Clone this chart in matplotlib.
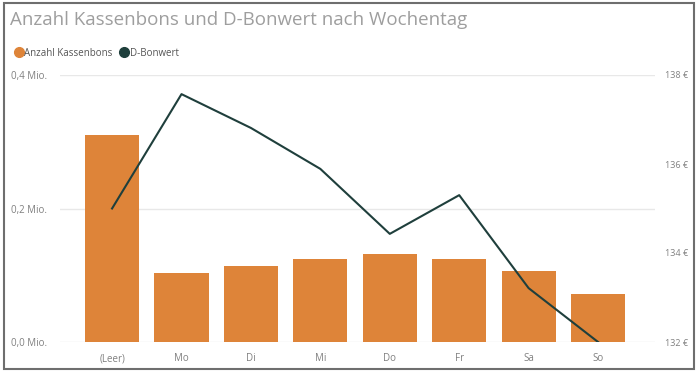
import matplotlib.pyplot as plt
from matplotlib.patches import Rectangle
from matplotlib.lines import Line2D

days = ['(Leer)', 'Mo', 'Di', 'Mi', 'Do', 'Fr', 'Sa', 'So']
kassenbons = [0.310, 0.103, 0.114, 0.124, 0.132, 0.124, 0.106, 0.072]  # Mio.
bonwert = [135.0, 137.57, 136.81, 135.89, 134.43, 135.30, 133.21, 132.0]  # EUR

bar_color = '#DE8439'
line_color = '#1F3F3C'
text_gray = '#808080'

plt.rcParams['font.family'] = ['Open Sans', 'DejaVu Sans']

fig = plt.figure(figsize=(7, 3.77), dpi=100)
ax = fig.add_axes([60 / 700, 35 / 377, 595 / 700, 267 / 377])

x = range(len(days))
ax.bar(x, kassenbons, width=0.78, color=bar_color, zorder=2)
ax.set_ylim(0, 0.4)
ax.set_xlim(-0.75, 7.82)
ax.set_yticks([0, 0.2, 0.4])
ax.set_yticklabels(['0,0 Mio.', '0,2 Mio.', '0,4 Mio.'])
ax.set_xticks(list(x))
ax.set_xticklabels(days)
ax.grid(axis='y', color='#E8E8E8', linewidth=1, zorder=0)
for s in ax.spines.values():
    s.set_visible(False)
ax.tick_params(length=0, labelsize=7, colors=text_gray, pad=8)
ax.tick_params(axis='y', pad=0)
for lbl in ax.get_yticklabels():
    lbl.set_horizontalalignment('left')
    lbl.set_x(-0.083)

ax2 = ax.twinx()
ax2.plot(x, bonwert, color=line_color, linewidth=1.5, zorder=3)
ax2.set_ylim(132, 138)
ax2.set_yticks([132, 134, 136, 138])
ax2.set_yticklabels(['132 €', '134 €', '136 €', '138 €'])
for s in ax2.spines.values():
    s.set_visible(False)
ax2.tick_params(length=0, labelsize=6.5, colors=text_gray, pad=7)

fig.text(10 / 700, 1 - 20 / 377, 'Anzahl Kassenbons und D-Bonwert nach Wochentag',
         fontsize=13.5, color='#9E9E9E', va='center', ha='left')

handles = [Line2D([], [], marker='o', linestyle='', markersize=7, color=bar_color),
           Line2D([], [], marker='o', linestyle='', markersize=7, color=line_color)]
fig.legend(handles, ['Anzahl Kassenbons', 'D-Bonwert'], loc='center left',
           bbox_to_anchor=(4 / 700, 1 - 53 / 377), ncol=2, frameon=False,
           fontsize=7, handletextpad=0.0, columnspacing=0.6, handlelength=1.2,
           labelcolor='#555555')

fig.patches.append(Rectangle((4 / 700, 8 / 377), 690 / 700, 366 / 377,
                             transform=fig.transFigure, fill=False,
                             edgecolor='#6E6E6E', linewidth=1.5))

fig.savefig('out.png', dpi=100)
